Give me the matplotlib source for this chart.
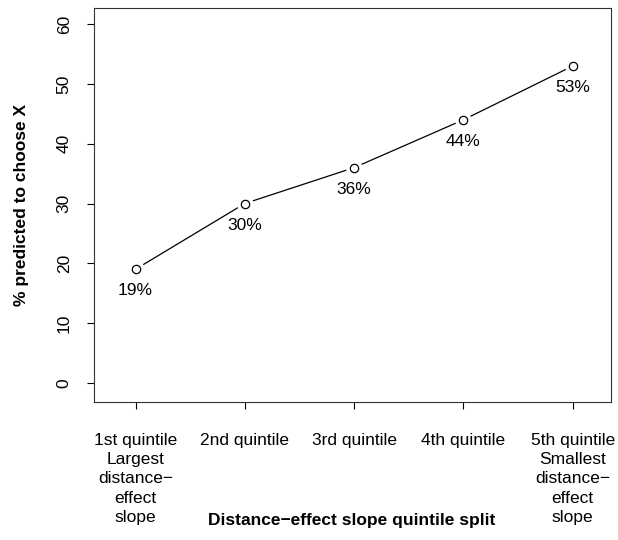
import matplotlib
matplotlib.use("Agg")
import matplotlib.pyplot as plt

plt.rcParams['font.family'] = ['Liberation Sans', 'DejaVu Sans']

quintiles = [1, 2, 3, 4, 5]
pct = [19, 30, 36, 44, 53]
tick_labels = ["1st quintile\nLargest\ndistance\u2212\neffect\nslope",
               "2nd quintile", "3rd quintile", "4th quintile",
               "5th quintile\nSmallest\ndistance\u2212\neffect\nslope"]
yticks = [0, 10, 20, 30, 40, 50, 60]

fig = plt.figure(figsize=(6.18, 5.4), dpi=100)
ax = fig.add_axes([94/618, 1-402/540, (611-94)/618, (402-8)/540])

ax.plot(quintiles, pct, color='black', lw=0.9, zorder=1)
# white halo so the line stops short of each point (like type="b")
ax.plot(quintiles, pct, 'o', ms=12, mfc='white', mec='none', zorder=2)
ax.plot(quintiles, pct, 'o', ms=6, mfc='white', mec='black', mew=0.9, zorder=3)

for x, y in zip(quintiles, pct):
    ax.annotate(f"{y}%", (x, y), xytext=(0, -15.5), textcoords='offset points',
                ha='center', va='center', fontsize=12.5)

ax.set_xlim(0.62, 5.35)
ax.set_ylim(-3.2, 62.7)
ax.set_xticks(quintiles)
ax.set_xticklabels(tick_labels, fontsize=12.5, linespacing=1.36, va='top')
ax.set_yticks(yticks)
ax.set_yticklabels([str(v) for v in yticks], fontsize=12.5, rotation=90, va='center')
ax.tick_params(axis='x', length=5, width=0.8, pad=17)
ax.tick_params(axis='y', length=5, width=0.8, pad=11)
for s in ax.spines.values():
    s.set_linewidth(0.8)
    s.set_color('#333333')

ax.set_ylabel("% predicted to choose X", fontsize=12.5, fontweight='bold', labelpad=20)
fig.text(352/618, 1-520/540, "Distance\u2212effect slope quintile split",
         fontsize=12.5, fontweight='bold', ha='center', va='center')

fig.savefig("out.png", dpi=100)
